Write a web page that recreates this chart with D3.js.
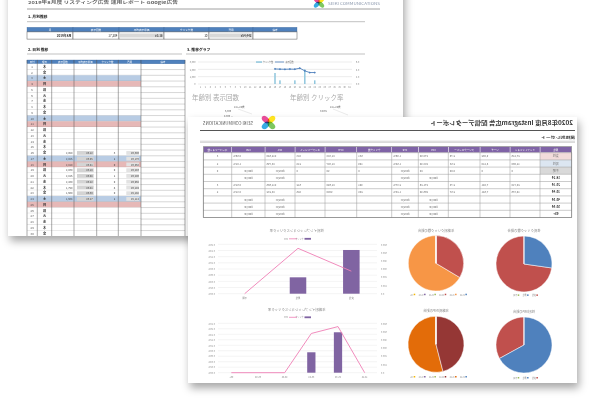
<!DOCTYPE html>
<html>
<head>
<meta charset="utf-8">
<script src="https://cdn.jsdelivr.net/npm/d3@7"></script>
<style>
  body { margin: 0; background: #fff; }
  svg { display: block; font-family: "Noto Sans CJK JP", "Noto Sans", sans-serif; }
</style>
</head>
<body>
<svg id="chart" width="592" height="398"></svg>
<script>
// ---------- back page: 2019年8月 daily report ----------
const monthLabel = '2019年8月';
const weekdayNames = ['日', '月', '火', '水', '木', '金', '土'];
const firstWeekday = 4; // 2019/8/1 = 木
const dayCount = 31;
const dataDays = [16, 17, 18, 19, 20, 21, 22, 23, 24];
const impressions = [2050, 2025, 2010, 2030, 2015, 2160, 1790, 1560, 1564];
const clicks = [3, 1, 0, 0, 1, 0, 4, 0, 1];
const costs = [6396, 6176, 6050, 6293, 6206, 6955, 6104, 5148, 5114];
const monthHeaders = ['月', '表示回数', '平均表示単価', 'クリック数', '費用', '備考'];
const dayHeaders = ['日付', '曜日', '表示回数', '平均表示単価', 'クリック数', '費用', '備考'];
const impTicks = [0, 1000, 2000, 3000];
const clickTicks = [0, 2, 4, 6];

// ---------- front page: Instagram report (printed mirrored) ----------
const genders = ['女性', '男性', '不明'];
const genderBars = [531, 199, 0];
const genderRate = [0.073, 0.147, 0];
const genderImpShare = [33, 67, 0];
const ages = ['18-24', '25-34', '35-44', '45-54', '55-64', '65+'];
const ageBars = [0, 491, 248, 0, 0, 0];
const ageRate = [0, 0.168, 0.143, 0, 0, 0];
const ageImpShare = [0, 54, 46, 0, 0, 0];
const segHeaders = ['属性', 'インプレッション', 'リーチ', 'フリークエンシー', 'CPC', 'CTR', 'クリック数',
  'CPM', 'エンゲージメント', 'CPA', 'CVR', 'コンバージョン数'];
const segLabels = ['女性', '男性', '不明'].concat(ages);
const emptyRow = ['', '', '', '#DIV/0!', '#DIV/0!', '', '', '', '#DIV/0!', '#DIV/0!', ''];
const segValues = [
  ['27,126', '9,862', '2.75', '¥70.90', '1.96%', '531', '¥1,388', '823', '¥12,549', '0.56%', '3'],
  ['12,960', '5,120', '2.53', '¥88.40', '1.54%', '199', '¥1,357', '214', '¥8,796', '1.01%', '2'],
  ['0', '0', '0.00', '¥0', '#DIV/0!', '0', '¥0', '0', '#DIV/0!', '#DIV/0!', '0'],
  emptyRow,
  ['20,710', '7,441', '2.78', '¥71.26', '2.37%', '491', '¥1,690', '612', '¥11,665', '0.61%', '3'],
  ['19,376', '7,541', '2.57', '¥66.40', '1.28%', '248', '¥850', '425', '¥8,232', '0.81%', '2'],
  emptyRow, emptyRow, emptyRow
];

const svg = d3.select('#chart');
const defs = svg.append('defs');
const shadow = defs.append('filter').attr('id', 'shadow')
  .attr('x', '-10%').attr('y', '-10%').attr('width', '125%').attr('height', '130%');
shadow.append('feDropShadow').attr('dx', 2).attr('dy', 5).attr('stdDeviation', 4)
  .attr('flood-color', '#000').attr('flood-opacity', 0.35);

const fmt = d3.format(',');
const yen = d => '¥' + fmt(d);

function txt(g, x, y, s, o = {}) {
  const t = g.append('text').attr('x', x).attr('y', y)
    .attr('font-size', o.size || 3).attr('fill', o.fill || '#333')
    .attr('font-weight', o.weight || 'normal')
    .attr('text-anchor', o.anchor || 'start').text(s);
  if (o.len) t.attr('textLength', o.len).attr('lengthAdjust', 'spacingAndGlyphs');
  return t;
}

// mirrored text: anchor is given as it looks on the picture
function mtxt(g, x, y, s, o = {}) {
  const flip = {start: 'end', end: 'start', middle: 'middle'};
  const t = g.append('text').attr('transform', `translate(${x},${y}) scale(-1,1)`)
    .attr('font-size', o.size || 3).attr('fill', o.fill || '#333')
    .attr('font-weight', o.weight || 'normal')
    .attr('text-anchor', flip[o.anchor || 'start']).text(s);
  if (o.len) t.attr('textLength', o.len).attr('lengthAdjust', 'spacingAndGlyphs');
  return t;
}

// flip the glyphs of axis labels in place
function mirrorAxisText(axisG) {
  axisG.selectAll('text').each(function () {
    const t = d3.select(this);
    const x = +t.attr('x') || 0;
    const a = t.attr('text-anchor') || axisG.attr('text-anchor');
    t.attr('transform', `translate(${2 * x},0) scale(-1,1)`)
      .attr('text-anchor', a === 'end' ? 'start' : a === 'start' ? 'end' : 'middle');
  });
}

function styleAxis(axisG, size, color) {
  axisG.select('.domain').remove();
  axisG.selectAll('line').remove();
  axisG.attr('font-family', null).attr('font-size', null);
  axisG.selectAll('text').attr('font-size', size).attr('fill', color);
}

function logo(g, cx, cy, s) {
  const petals = [
    {a: -45, c: '#ffe100'}, {a: 45, c: '#6cc04a'},
    {a: 135, c: '#1aa0e0'}, {a: 225, c: '#e6338a'}
  ];
  petals.forEach(p => {
    g.append('ellipse')
      .attr('transform', `translate(${cx},${cy}) rotate(${p.a}) translate(${s * 0.32},0)`)
      .attr('rx', s * 0.34).attr('ry', s * 0.22)
      .attr('fill', p.c).attr('opacity', 0.88)
      .style('mix-blend-mode', 'multiply');
  });
}

// ================= BACK PAGE =================
const bp = svg.append('g');
bp.append('rect').attr('x', 8).attr('y', -20).attr('width', 395).attr('height', 256)
  .attr('fill', '#fff').attr('filter', 'url(#shadow)');
defs.append('clipPath').attr('id', 'bpClip')
  .append('rect').attr('x', 8).attr('y', -20).attr('width', 395).attr('height', 256);
const b = bp.append('g').attr('clip-path', 'url(#bpClip)');

txt(b, 28, 4.3, monthLabel + '度 リスティング広告 運用レポート Google広告', {size: 4, weight: 'bold', fill: '#666', len: 150});
logo(b, 319, 2.5, 10);
txt(b, 328, 4.5, 'SEIKI COMMUNICATIONS', {size: 4, fill: '#8b98ad', len: 52});
b.append('line').attr('x1', 27).attr('x2', 380).attr('y1', 9).attr('y2', 9)
  .attr('stroke', '#888').attr('stroke-width', 0.8);

txt(b, 28, 17.5, '1. 月別推移', {size: 3.8, weight: 'bold', fill: '#222'});
b.append('line').attr('x1', 27).attr('x2', 365).attr('y1', 21.7).attr('y2', 21.7)
  .attr('stroke', '#999').attr('stroke-width', 0.6);
txt(b, 28, 51, '2. 日別 推移', {size: 3.8, weight: 'bold', fill: '#222'});
txt(b, 187, 51, '3. 推移グラフ', {size: 3.8, weight: 'bold', fill: '#222'});
b.append('line').attr('x1', 27).attr('x2', 182).attr('y1', 54).attr('y2', 54)
  .attr('stroke', '#999').attr('stroke-width', 0.6);
b.append('line').attr('x1', 186).attr('x2', 365).attr('y1', 54).attr('y2', 54)
  .attr('stroke', '#999').attr('stroke-width', 0.6);

// monthly table
const totalImp = d3.sum(impressions);
const totalClicks = d3.sum(clicks);
const totalCost = d3.sum(costs);
const monthEdges = [27, 73, 119, 164, 209, 253, 297];
const monthRow = [monthLabel, fmt(totalImp), '¥' + (totalCost / totalImp).toFixed(2),
  fmt(totalClicks), yen(totalCost), ''];
monthHeaders.forEach((h, i) => {
  b.append('rect').attr('x', monthEdges[i]).attr('y', 27.3)
    .attr('width', monthEdges[i + 1] - monthEdges[i]).attr('height', 4.6)
    .attr('fill', '#4f81bd').attr('stroke', '#3a6396').attr('stroke-width', 0.3);
  txt(b, (monthEdges[i] + monthEdges[i + 1]) / 2, 30.7, h, {size: 2.6, fill: '#fff', anchor: 'middle'});
  b.append('rect').attr('x', monthEdges[i]).attr('y', 31.9)
    .attr('width', monthEdges[i + 1] - monthEdges[i]).attr('height', 7.2)
    .attr('fill', '#fff').attr('stroke', '#555').attr('stroke-width', 0.5);
  if (i === 2 || i === 4) {
    b.append('rect').attr('x', monthEdges[i] + 1).attr('y', 33.5)
      .attr('width', monthEdges[i + 1] - monthEdges[i] - 2).attr('height', 4)
      .attr('fill', '#d8d8d8');
  }
  txt(b, monthEdges[i + 1] - 1.5, 36.6, monthRow[i], {size: 3, fill: '#222', anchor: 'end', weight: i === 0 ? 'bold' : 'normal'});
});

// daily table
const dayEdges = [27, 37.3, 51.7, 74, 96.7, 118.3, 141, 185];
const rowH = 5.75;
const tableTop = 63.8;
dayHeaders.forEach((h, i) => {
  b.append('rect').attr('x', dayEdges[i]).attr('y', 60)
    .attr('width', dayEdges[i + 1] - dayEdges[i]).attr('height', tableTop - 60)
    .attr('fill', '#4f81bd').attr('stroke', '#3a6396').attr('stroke-width', 0.3);
  txt(b, (dayEdges[i] + dayEdges[i + 1]) / 2, 63, h, {size: 2.4, fill: '#fff', anchor: 'middle'});
});
d3.range(1, dayCount + 1).forEach(d => {
  const y0 = tableTop + (d - 1) * rowH;
  const wd = (firstWeekday + d - 1) % 7;
  const fill = wd === 6 ? '#b8cce4' : wd === 0 ? '#e6b8b7' : '#fff';
  b.append('rect').attr('x', dayEdges[0]).attr('y', y0)
    .attr('width', dayEdges[6] - dayEdges[0]).attr('height', rowH).attr('fill', fill);
  b.append('line').attr('x1', dayEdges[0]).attr('x2', dayEdges[7])
    .attr('y1', y0 + rowH).attr('y2', y0 + rowH).attr('stroke', '#999').attr('stroke-width', 0.4);
  const cy = y0 + rowH / 2 + 1.1;
  txt(b, (dayEdges[0] + dayEdges[1]) / 2, cy, d, {size: 2.8, fill: '#444', anchor: 'middle'});
  txt(b, (dayEdges[1] + dayEdges[2]) / 2, cy, weekdayNames[wd], {size: 3.2, fill: '#222', anchor: 'middle', weight: 'bold'});
  const k = dataDays.indexOf(d);
  if (k >= 0) {
    txt(b, dayEdges[3] - 1.5, cy, fmt(impressions[k]), {size: 2.6, fill: '#444', anchor: 'end'});
    b.append('rect').attr('x', dayEdges[3] + 3).attr('y', y0 + 1)
      .attr('width', dayEdges[4] - dayEdges[3] - 6).attr('height', rowH - 2).attr('fill', '#d4d4d4');
    txt(b, dayEdges[4] - 4, cy, '¥' + (costs[k] / impressions[k]).toFixed(2), {size: 2.6, fill: '#444', anchor: 'end'});
    txt(b, dayEdges[5] - 3, cy, clicks[k], {size: 2.8, fill: '#333', anchor: 'end'});
    b.append('rect').attr('x', dayEdges[5] + 8).attr('y', y0 + 1)
      .attr('width', dayEdges[6] - dayEdges[5] - 10).attr('height', rowH - 2).attr('fill', '#e2e2e2');
    txt(b, dayEdges[6] - 2, cy, yen(costs[k]), {size: 2.6, fill: '#444', anchor: 'end'});
  }
});
dayEdges.forEach(x => {
  b.append('line').attr('x1', x).attr('x2', x).attr('y1', 60).attr('y2', tableTop + dayCount * rowH)
    .attr('stroke', '#555').attr('stroke-width', 0.5);
});

// trend chart
const cg = b.append('g');
const xDay = d3.scaleBand().domain(d3.range(1, dayCount + 1)).range([198, 352]);
const yImp = d3.scaleLinear().domain([0, 3000]).range([84, 62]);
const yClk = d3.scaleLinear().domain([0, 6]).range([84, 62]);
impTicks.forEach(t => {
  cg.append('line').attr('x1', 198).attr('x2', 352).attr('y1', yImp(t)).attr('y2', yImp(t))
    .attr('stroke', '#d9d9d9').attr('stroke-width', 0.5);
});
const axL = cg.append('g').attr('transform', 'translate(198,0)')
  .call(d3.axisLeft(yImp).tickValues(impTicks).tickSize(0).tickPadding(2.5).tickFormat(d3.format(',')));
styleAxis(axL, 2.3, '#777');
const axR = cg.append('g').attr('transform', 'translate(352,0)')
  .call(d3.axisRight(yClk).tickValues(clickTicks).tickSize(0).tickPadding(4).tickFormat(d3.format('.1f')));
styleAxis(axR, 2.3, '#777');
const axB = cg.append('g').attr('transform', 'translate(0,84)')
  .call(d3.axisBottom(xDay).tickSize(0).tickPadding(3));
styleAxis(axB, 2.1, '#777');
cg.selectAll('.bar').data(dataDays.map((d, i) => ({d, v: clicks[i]}))).join('rect')
  .attr('x', o => xDay(o.d) + xDay.bandwidth() * 0.35).attr('width', xDay.bandwidth() * 0.3)
  .attr('y', o => yClk(o.v)).attr('height', o => 84 - yClk(o.v)).attr('fill', '#8fc6dd');
const impPts = dataDays.map((d, i) => [xDay(d) + xDay.bandwidth() / 2, yImp(impressions[i])]);
cg.append('path').attr('d', d3.line()(impPts)).attr('fill', 'none')
  .attr('stroke', '#4f81bd').attr('stroke-width', 0.9);
cg.selectAll('.mk').data(impPts).join('rect')
  .attr('x', p => p[0] - 0.8).attr('y', p => p[1] - 0.8).attr('width', 1.6).attr('height', 1.6)
  .attr('transform', p => `rotate(45,${p[0]},${p[1]})`).attr('fill', '#4f81bd');
cg.append('rect').attr('x', 256).attr('y', 61.3).attr('width', 6).attr('height', 1.5).attr('fill', '#8fc6dd');
txt(cg, 263, 62.9, 'クリック数', {size: 2, fill: '#666'});
cg.append('line').attr('x1', 275).attr('x2', 284).attr('y1', 62).attr('y2', 62)
  .attr('stroke', '#4f81bd').attr('stroke-width', 0.8);
txt(cg, 285.5, 62.9, '表示回数', {size: 2, fill: '#666'});

txt(b, 192, 100, '年齢別 表示回数', {size: 6.5, fill: '#aaa'});
txt(b, 290, 100, '年齢別 クリック率', {size: 6.5, fill: '#aaa'});
txt(b, 234, 107.8, '18～24歳', {size: 2.5, fill: '#555'});
txt(b, 225, 112, '5,000', {size: 2.5, fill: '#555'});
txt(b, 224, 116.6, '4,000 —', {size: 2.5, fill: '#555'});
txt(b, 330, 107.8, '18～24歳', {size: 2.5, fill: '#555'});
txt(b, 320, 112, '0.40%', {size: 2.5, fill: '#555'});
b.append('line').attr('x1', 238).attr('y1', 109).attr('x2', 252).attr('y2', 114)
  .attr('stroke', '#ccc').attr('stroke-width', 0.4);
b.append('line').attr('x1', 333).attr('y1', 109).attr('x2', 348).attr('y2', 115)
  .attr('stroke', '#ccc').attr('stroke-width', 0.4);

// ================= FRONT PAGE (mirrored print) =================
const fp = svg.append('g');
fp.append('rect').attr('x', 188).attr('y', 117).attr('width', 389).attr('height', 266)
  .attr('fill', '#fff').attr('filter', 'url(#shadow)');

logo(fp, 268.5, 122.5, 13);
mtxt(fp, 203, 125, 'SEIKI COMMUNICATIONS', {size: 4.5, fill: '#555', len: 50});
mtxt(fp, 573, 124.5, '2020年8月度 Instagram広告 配信データレポート', {size: 5.6, weight: 'bold', fill: '#333', anchor: 'end', len: 143});
fp.append('line').attr('x1', 200).attr('x2', 575).attr('y1', 130.5).attr('y2', 130.5)
  .attr('stroke', '#555').attr('stroke-width', 1);
mtxt(fp, 575, 138.5, '属性別レポート', {size: 3.6, weight: 'bold', fill: '#333', anchor: 'end', len: 34});
fp.append('line').attr('x1', 200).attr('x2', 575).attr('y1', 141.2).attr('y2', 141.2)
  .attr('stroke', '#aaa').attr('stroke-width', 0.5);
fp.append('line').attr('x1', 200).attr('x2', 575).attr('y1', 142.4).attr('y2', 142.4)
  .attr('stroke', '#aaa').attr('stroke-width', 0.5);

// segment table (columns run right to left on the mirrored print)
const segEdges = [203.3, 231.7, 265, 295, 325, 356.7, 391.7, 418.3, 448.3, 480, 510, 540, 571.7];
const segTop = 146.7, segHeadH = 6, segRowH = 7.2;
const labelFill = ['#f2dcdb', '#dce6f1', '#d9d9d9'];
const cellX = i => [segEdges[11 - i], segEdges[12 - i]];
segHeaders.forEach((h, i) => {
  const [x0, x1] = cellX(i);
  fp.append('rect').attr('x', x0).attr('y', segTop).attr('width', x1 - x0).attr('height', segHeadH)
    .attr('fill', '#7f63a6').attr('stroke', '#fff').attr('stroke-width', 0.4);
  mtxt(fp, (x0 + x1) / 2, segTop + 4.1, h, {size: 2.5, fill: '#fff', anchor: 'middle'});
});
segLabels.forEach((lab, r) => {
  const y0 = segTop + segHeadH + r * segRowH;
  const cy = y0 + segRowH / 2 + 1.1;
  const [lx0, lx1] = cellX(0);
  fp.append('rect').attr('x', lx0).attr('y', y0).attr('width', lx1 - lx0).attr('height', segRowH)
    .attr('fill', labelFill[r] || '#fff');
  mtxt(fp, (lx0 + lx1) / 2, cy, lab, {size: 3, weight: r > 2 ? 'bold' : 'normal', fill: r > 2 ? '#222' : '#777', anchor: 'middle'});
  segValues[r].forEach((v, j) => {
    if (!v) return;
    const [x0, x1] = cellX(j + 1);
    if (v === '#DIV/0!' || j === 10) {
      mtxt(fp, (x0 + x1) / 2, cy, v, {size: 2.7, fill: '#666', anchor: 'middle'});
    } else {
      mtxt(fp, x0 + 1.5, cy, v, {size: 2.7, fill: '#666', anchor: 'start'});
    }
  });
});
const segBottom = segTop + segHeadH + segLabels.length * segRowH;
d3.range(segLabels.length + 1).forEach(r => {
  const y = segTop + segHeadH + r * segRowH;
  fp.append('line').attr('x1', segEdges[0]).attr('x2', segEdges[12]).attr('y1', y).attr('y2', y)
    .attr('stroke', '#999').attr('stroke-width', 0.5);
});
segEdges.forEach(x => {
  fp.append('line').attr('x1', x).attr('x2', x).attr('y1', segTop + segHeadH).attr('y2', segBottom)
    .attr('stroke', '#999').attr('stroke-width', 0.5);
});
fp.append('rect').attr('x', segEdges[0]).attr('y', segTop).attr('width', segEdges[12] - segEdges[0])
  .attr('height', segBottom - segTop).attr('fill', 'none').attr('stroke', '#777').attr('stroke-width', 0.6);

// combo charts (bars + rate line), drawn mirrored
function combo(o) {
  const g = fp.append('g');
  const x = d3.scaleBand().domain(o.cats.slice().reverse()).range([218, 378]);
  const yLine = d3.scaleLinear().domain([0, o.lineMax]).range([o.bottom, o.top]);
  const yBar = d3.scaleLinear().domain([0, 600]).range([o.bottom, o.top]);
  const lineTicks = d3.range(0, o.lineMax + 1e-9, 0.02);
  lineTicks.forEach(t => {
    g.append('line').attr('x1', 218).attr('x2', 377).attr('y1', yLine(t)).attr('y2', yLine(t))
      .attr('stroke', '#e8e8e8').attr('stroke-width', 0.5);
  });
  const al = g.append('g').attr('transform', 'translate(218,0)')
    .call(d3.axisLeft(yLine).tickValues(lineTicks).tickSize(0).tickPadding(3)
      .tickFormat(d => d.toFixed(2) + '%'));
  styleAxis(al, 2.3, '#888');
  mirrorAxisText(al);
  const ar = g.append('g').attr('transform', 'translate(378,0)')
    .call(d3.axisRight(yBar).tickValues(d3.range(0, 601, 100)).tickSize(0).tickPadding(3)
      .tickFormat(d3.format('.1f')));
  styleAxis(ar, 2.3, '#888');
  mirrorAxisText(ar);
  const ab = g.append('g').attr('transform', `translate(0,${o.bottom})`)
    .call(d3.axisBottom(x).tickSize(0).tickPadding(3.5));
  styleAxis(ab, 2.3, '#888');
  mirrorAxisText(ab);
  g.selectAll('.bar').data(o.cats.map((c, i) => ({c, v: o.bars[i]}))).join('rect')
    .attr('x', d => x(d.c) + x.bandwidth() * 0.345).attr('width', x.bandwidth() * 0.31)
    .attr('y', d => yBar(d.v)).attr('height', d => o.bottom - yBar(d.v))
    .attr('fill', '#8064a2');
  const pts = x.domain().map(c => [x(c) + x.bandwidth() / 2, yLine(o.line[o.cats.indexOf(c)])]);
  g.append('path').attr('d', d3.line()(pts)).attr('fill', 'none')
    .attr('stroke', '#ef7fb6').attr('stroke-width', 0.9);
  mtxt(g, 296.7, o.titleY, o.title, {size: 3.4, fill: '#888', anchor: 'middle'});
  mtxt(g, 288, o.legendY + 0.8, 'CTR', {size: 2, fill: '#888', anchor: 'end'});
  g.append('line').attr('x1', 289).attr('x2', 297).attr('y1', o.legendY).attr('y2', o.legendY)
    .attr('stroke', '#ef7fb6').attr('stroke-width', 0.8);
  mtxt(g, 303.5, o.legendY + 0.8, 'クリック', {size: 2, fill: '#888', anchor: 'end'});
  g.append('rect').attr('x', 304.5).attr('y', o.legendY - 0.9).attr('width', 6.5).attr('height', 1.8)
    .attr('fill', '#8064a2');
}
combo({cats: genders, bars: genderBars, line: genderRate, lineMax: 0.16, top: 244.3, bottom: 293.7,
  title: '性別インプレッションとクリック率', titleY: 232, legendY: 238.8});
combo({cats: ages, bars: ageBars, line: ageRate, lineMax: 0.18, top: 323.3, bottom: 372.7,
  title: '年齢別インプレッションとクリック率', titleY: 310.5, legendY: 317.3});

// pies (mirrored print => counter-clockwise)
function pieChart(o) {
  const g = fp.append('g');
  const arcs = d3.pie().sort(null).startAngle(0).endAngle(-2 * Math.PI)(o.values);
  const arc = d3.arc().innerRadius(0).outerRadius(o.r);
  g.selectAll('path').data(arcs).join('path')
    .attr('transform', `translate(${o.cx},${o.cy})`).attr('d', arc)
    .attr('fill', (d, i) => o.colors[i]).attr('stroke', '#fff').attr('stroke-width', 0.5);
  mtxt(g, o.cx, o.titleY, o.title, {size: 3.3, fill: '#888', anchor: 'middle'});
  const n = o.cats.length;
  const step = o.legendW / n;
  o.cats.forEach((c, i) => {
    const xr = o.cx + o.legendW / 2 - i * step;
    g.append('rect').attr('x', xr - 1.6).attr('y', o.legendY - 1.3).attr('width', 1.5).attr('height', 1.5)
      .attr('fill', o.colors[i]);
    mtxt(g, xr - 2.2, o.legendY + 0.5, c, {size: 1.9, fill: '#888', anchor: 'end'});
  });
}
pieChart({cx: 436, cy: 263.3, r: 27.7, values: ageBars, cats: ages,
  colors: ['#4f81bd', '#f79646', '#c0504d', '#9bbb59', '#8064a2', '#f5b800'],
  title: '年齢別クリック数の割合', titleY: 232, legendY: 295, legendW: 62});
pieChart({cx: 524, cy: 264, r: 28, values: genderBars, cats: genders,
  colors: ['#c0504d', '#4f81bd', '#9bbb59'],
  title: '性別クリック数の割合', titleY: 232, legendY: 295.7, legendW: 28});
pieChart({cx: 436, cy: 344.3, r: 28, values: ageImpShare, cats: ages,
  colors: ['#4f81bd', '#e36c09', '#953735', '#9bbb59', '#8064a2', '#f5b800'],
  title: '年齢別IMPの割合', titleY: 312, legendY: 377.3, legendW: 62});
pieChart({cx: 524, cy: 345, r: 28, values: genderImpShare, cats: genders,
  colors: ['#c0504d', '#4f81bd', '#9bbb59'],
  title: '性別IMPの割合', titleY: 313, legendY: 378.3, legendW: 28});
</script>
</body>
</html>
